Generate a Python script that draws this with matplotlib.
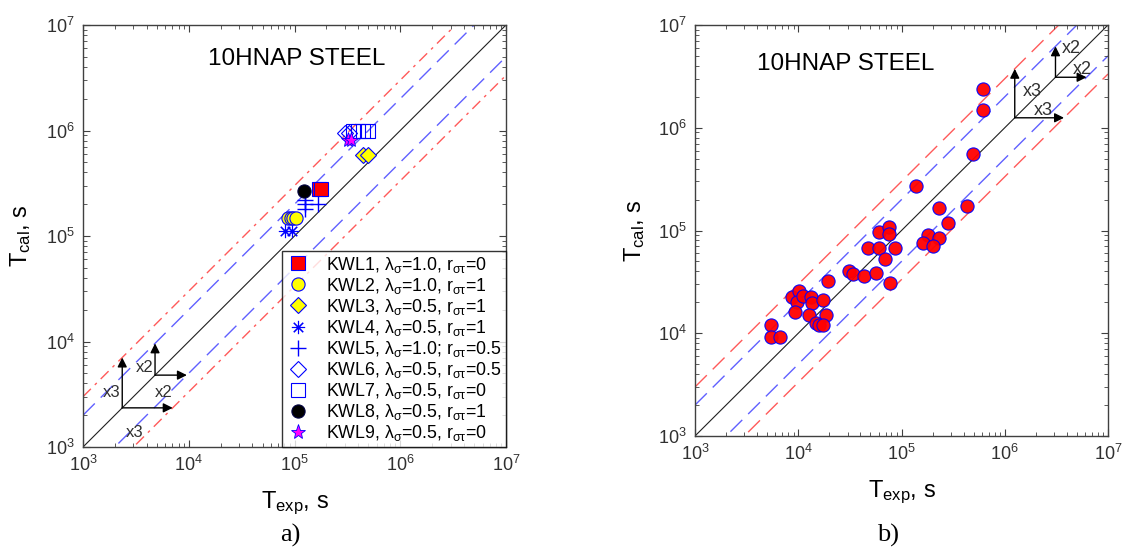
import matplotlib
matplotlib.use('Agg')
from matplotlib import pyplot as plt
import numpy as np

plt.rcParams['font.family'] = ['Liberation Sans', 'DejaVu Sans']
plt.rcParams['mathtext.fontset'] = 'custom'
plt.rcParams['mathtext.rm'] = 'Liberation Sans'
plt.rcParams['mathtext.it'] = 'Liberation Sans'
plt.rcParams['mathtext.sf'] = 'Liberation Sans'

# ---- data, panel a) (T_exp, T_cal) per series ----
kwl1_x = [1.7e5, 1.8e5]
kwl1_y = [2.8e5, 2.8e5]
kwl2_x = [8.7e4, 9.3e4, 9.7e4, 1.03e5]
kwl2_y = [1.48e5, 1.48e5, 1.48e5, 1.48e5]
kwl3_x = [4.4e5, 5.0e5]
kwl3_y = [5.9e5, 5.9e5]
kwl4_x = [8.1e4, 9.5e4]
kwl4_y = [1.12e5, 1.12e5]
kwl5_x = [1.25e5, 1.25e5, 1.25e5, 1.67e5]
kwl5_y = [1.8e5, 2.0e5, 2.2e5, 2.0e5]
kwl6_x = [3.0e5, 3.3e5]
kwl6_y = [9.5e5, 9.5e5]
kwl7_x = [3.6e5, 4.0e5, 4.4e5, 5.0e5]
kwl7_y = [1.0e6, 1.0e6, 1.0e6, 1.0e6]
kwl8_x = [1.23e5]
kwl8_y = [2.68e5]
kwl9_x = [3.2e5, 3.4e5]
kwl9_y = [8.1e5, 8.1e5]

labels_a = [
    r'KWL1, $\lambda_{\sigma}$=1.0, r$_{\sigma\tau}$=0',
    r'KWL2, $\lambda_{\sigma}$=1.0, r$_{\sigma\tau}$=1',
    r'KWL3, $\lambda_{\sigma}$=0.5, r$_{\sigma\tau}$=1',
    r'KWL4, $\lambda_{\sigma}$=0.5, r$_{\sigma\tau}$=1',
    r'KWL5, $\lambda_{\sigma}$=1.0; r$_{\sigma\tau}$=0.5',
    r'KWL6, $\lambda_{\sigma}$=0.5, r$_{\sigma\tau}$=0.5',
    r'KWL7, $\lambda_{\sigma}$=0.5, r$_{\sigma\tau}$=0',
    r'KWL8, $\lambda_{\sigma}$=0.5, r$_{\sigma\tau}$=1',
    r'KWL9, $\lambda_{\sigma}$=0.5, r$_{\sigma\tau}$=0',
]

# ---- data, panel b) ----
b_exp = [5.5e3, 5.5e3, 6.6e3,
         8.7e3, 1.02e4, 9.7e3, 1.12e4, 1.33e4, 1.37e4,
         9.2e3, 1.26e4, 1.75e4, 1.96e4, 1.85e4,
         1.5e4, 1.6e4, 1.75e4,
         3.1e4, 3.4e4, 4.3e4, 5.6e4, 4.7e4, 6.1e4, 8.7e4, 6.9e4, 7.8e4,
         6.0e4, 7.5e4, 7.6e4,
         1.38e5, 2.3e5, 4.3e5, 2.8e5, 1.8e5, 2.3e5, 1.6e5, 2.0e5,
         4.9e5, 6.2e5, 6.2e5]
b_cal = [1.2e4, 9.2e3, 9.2e3,
         2.24e4, 2.57e4, 2.0e4, 2.3e4, 2.24e4, 1.95e4,
         1.6e4, 1.5e4, 2.1e4, 3.2e4, 1.5e4,
         1.25e4, 1.2e4, 1.2e4,
         4.0e4, 3.8e4, 3.6e4, 3.9e4, 6.7e4, 6.7e4, 6.7e4, 5.3e4, 3.1e4,
         9.6e4, 1.07e5, 9.3e4,
         2.7e5, 1.66e5, 1.74e5, 1.18e5, 9.1e4, 8.4e4, 7.6e4, 7.0e4,
         5.5e5, 1.48e6, 2.4e6]

lims = [1e3, 1e7]
factors = [2, 3]

fig = plt.figure(figsize=(11.22, 5.51), dpi=100)
ax1 = fig.add_axes([83/1122, 1-447/551, 423/1122, 422/551])
ax2 = fig.add_axes([695/1122, 1-436/551, 413/1122, 411/551])

BLUE = '#6060ff'
RED = '#ff5a5a'
GRAY = '#404040'


def style(ax):
    ax.set_xscale('log')
    ax.set_yscale('log')
    ax.set_xlim(lims)
    ax.set_ylim(lims)
    ax.tick_params(which='both', direction='in', top=True, right=True,
                   colors=GRAY, labelsize=13, labelcolor='#303030')
    ax.tick_params(which='major', length=5, pad=6)
    ax.tick_params(which='minor', length=3)
    for s in ax.spines.values():
        s.set_color(GRAY)
        s.set_linewidth(1.0)


def bands(ax, red_dashes):
    x = np.array(lims)
    ax.plot(x, x, color='#202020', lw=0.8, zorder=1)
    ax.plot(x, x*factors[0], color=BLUE, lw=1.0, dashes=(12, 6), zorder=1)
    ax.plot(x, x/factors[0], color=BLUE, lw=1.0, dashes=(12, 6), zorder=1)
    ax.plot(x, x*factors[1], color=RED, lw=1.0, dashes=red_dashes, zorder=1)
    ax.plot(x, x/factors[1], color=RED, lw=1.0, dashes=red_dashes, zorder=1)


def arrows(ax, x0, f, fs, lbl_v, lbl_h):
    ap = dict(arrowstyle='-|>', color='k', lw=1.0, mutation_scale=14,
              shrinkA=0, shrinkB=0)
    ax.annotate('', xy=(x0*f, x0), xytext=(x0, x0), arrowprops=ap)
    ax.annotate('', xy=(x0, x0*f), xytext=(x0, x0), arrowprops=ap)
    ax.text(x0*lbl_v[0], x0*lbl_v[1], 'x%d' % f, fontsize=fs,
            color='#303030', ha='center', va='center')
    ax.text(x0*lbl_h[0], x0*lbl_h[1], 'x%d' % f, fontsize=fs,
            color='#303030', ha='center', va='center')


# ---------------- panel a ----------------
style(ax1)
bands(ax1, (8, 4, 2, 4))
ms = 9.5
ax1.plot(kwl1_x, kwl1_y, 's', ms=ms, mfc='red', mec='blue', mew=0.8, ls='none', label=labels_a[0])
ax1.plot(kwl2_x, kwl2_y, 'o', ms=ms, mfc='yellow', mec='blue', mew=0.8, ls='none', label=labels_a[1])
ax1.plot(kwl3_x, kwl3_y, 'D', ms=8.5, mfc='yellow', mec='blue', mew=0.8, ls='none', label=labels_a[2])
ax1.plot(kwl4_x, kwl4_y, marker=(8, 2, 0), ms=ms, color='blue', mew=0.8, ls='none', label=labels_a[3])
ax1.plot(kwl5_x, kwl5_y, '+', ms=12, color='blue', mew=1.0, ls='none', label=labels_a[4])
ax1.plot(kwl6_x, kwl6_y, 'D', ms=8.5, mfc='none', mec='blue', mew=0.8, ls='none', label=labels_a[5])
ax1.plot(kwl7_x, kwl7_y, 's', ms=ms, mfc='none', mec='blue', mew=0.8, ls='none', label=labels_a[6])
ax1.plot(kwl8_x, kwl8_y, 'o', ms=ms, mfc='black', mec='#000040', mew=0.8, ls='none', label=labels_a[7])
ax1.plot(kwl9_x, kwl9_y, '*', ms=11, mfc='magenta', mec='blue', mew=0.6, ls='none', label=labels_a[8])

leg = ax1.legend(loc='lower right', bbox_to_anchor=(1.0, 0.0), fontsize=12.8,
                 frameon=True, fancybox=False, borderpad=0.22, labelspacing=0.06,
                 handletextpad=0.9, handlelength=1.4, borderaxespad=0.0)
leg.get_frame().set_edgecolor('black')
leg.get_frame().set_linewidth(1.0)

arrows(ax1, 2.35e3, 3, 12, (0.80, 1.41), (1.32, 0.58))
arrows(ax1, 4.8e3, 2, 12, (0.80, 1.17), (1.22, 0.69))

ax1.text(0.505, 0.92, '10HNAP STEEL', transform=ax1.transAxes, fontsize=17.5,
         ha='center', va='center', color='black')
ax1.set_xlabel(r'T$_{\mathregular{exp}}$, s', fontsize=17, labelpad=10)
ax1.set_ylabel(r'T$_{\mathregular{cal}}$, s', fontsize=17, labelpad=9)

# ---------------- panel b ----------------
style(ax2)
bands(ax2, (12, 6))
ax2.plot(b_exp, b_cal, 'o', ms=9.5, mfc='red', mec='blue', mew=0.8, ls='none', alpha=0.95)

arrows(ax2, 1.25e6, 3, 13, (1.48, 1.82), (1.9, 1.19))
arrows(ax2, 3.1e6, 2, 13, (1.41, 1.9), (1.8, 1.2))

ax2.text(0.365, 0.905, '10HNAP STEEL', transform=ax2.transAxes, fontsize=17.5,
         ha='center', va='center', color='black')
ax2.set_xlabel(r'T$_{\mathregular{exp}}$, s', fontsize=17, labelpad=10)
ax2.set_ylabel(r'T$_{\mathregular{cal}}$, s', fontsize=17, labelpad=8)

fig.text(290/1122, 1-535/551, 'a)', family=['Liberation Serif'], fontsize=19,
         ha='center', va='center')
fig.text(888/1122, 1-535/551, 'b)', family=['Liberation Serif'], fontsize=19,
         ha='center', va='center')

fig.savefig('out.png', dpi=100)
